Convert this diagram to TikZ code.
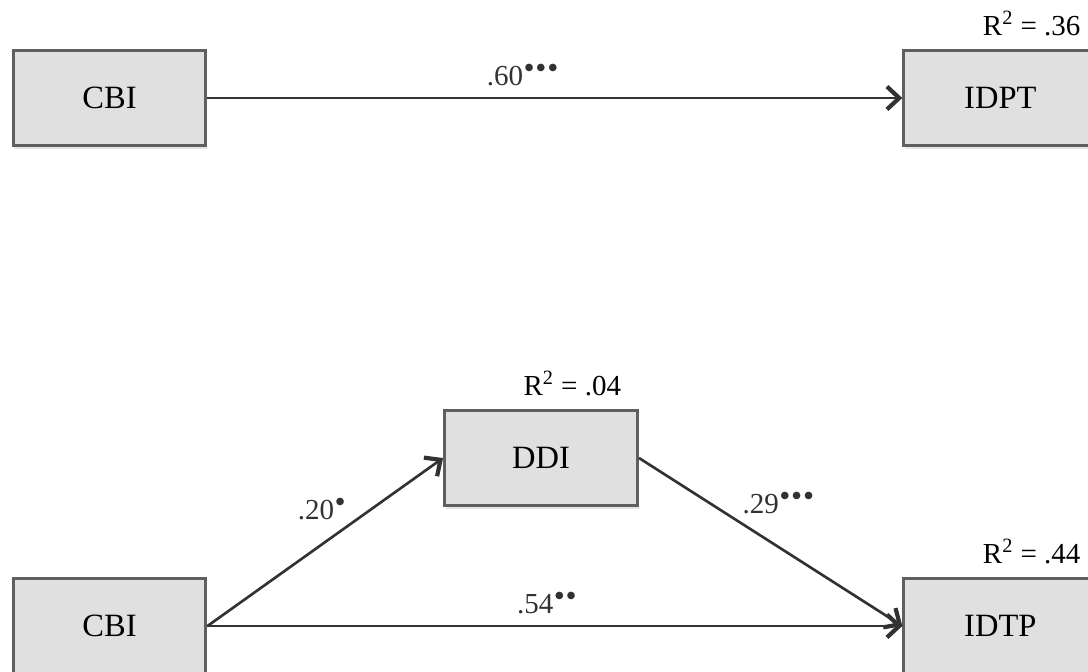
\documentclass[tikz,border=0pt]{standalone}
\usepackage{fontspec}
\setmainfont{Liberation Serif}
\newfontfamily\dotfont{DejaVu Sans}
\usepackage{xcolor}
\definecolor{boxfill}{RGB}{224, 224, 224}
\definecolor{boxline}{RGB}{95, 95, 95}
\definecolor{pathline}{RGB}{50, 50, 50}
\usetikzlibrary{arrows.meta, positioning, shadows}
\newcommand{\sigdot}{{\dotfont\fontsize{5.6}{5.6}\selectfont ●}}
\newcommand{\sigdots}[1]{\kern1pt\raisebox{0.52em}{\foreach \i in {1,...,#1}{\sigdot\kern1.9pt}}}

\begin{document}
\begin{tikzpicture}[
    x=0.02cm, y=-0.02cm,
    var/.style={rectangle, draw=boxline, fill=boxfill, line width=1.7pt,
                minimum width=3.86cm, minimum height=1.9cm, align=center,
                font=\fontsize{18.5}{20}\selectfont,
                drop shadow={opacity=0.2, shadow xshift=0.8pt, shadow yshift=-1.8pt}},
    coef/.style={font=\fontsize{16.5}{18}\selectfont, inner sep=2pt},
    rsq/.style={font=\fontsize{16.5}{18}\selectfont, inner sep=2pt, anchor=south east},
    arrow/.style={-{Straight Barb[length=7pt, width=13pt, line width=2.4pt]}, line width=1.5pt, pathline}
]
    \useasboundingbox (0,0) rectangle (1088,672);

    % Direct model
    \node[var] (cbiA) at (109.5,98) {CBI};
    \node[var, right=13.9cm of cbiA] (idpt) {IDPT};
    \node[rsq] (rsqA) at ([xshift=-8pt, yshift=5pt]idpt.north east) {R\textsuperscript{2} = .36};

    \draw[arrow] (cbiA) -- node[coef, pos=0.455, above=4pt] {.60\sigdots{3}} (idpt);

    % Mediation model
    \node[var] (cbiB) at (109.5,626) {CBI};
    \node[var] (ddi) at (541,458) {DDI};
    \node[var, right=13.9cm of cbiB] (idtp) {IDTP};
    \node[rsq] (rsqB) at ([xshift=-8pt, yshift=5pt]ddi.north east) {R\textsuperscript{2} = .04};
    \node[rsq] (rsqC) at ([xshift=-8pt, yshift=5pt]idtp.north east) {R\textsuperscript{2} = .44};

    \draw[arrow] (cbiB.east) -- node[coef, pos=0.49, above=11pt] {.20\sigdots{1}} (ddi.west);
    \draw[arrow] (ddi.east) -- node[coef, pos=0.5, above=13pt, xshift=5pt] {.29\sigdots{3}} (idtp.west);
    \draw[arrow] (cbiB) -- node[coef, pos=0.49, above=4pt] {.54\sigdots{2}} (idtp);
\end{tikzpicture}
\end{document}
